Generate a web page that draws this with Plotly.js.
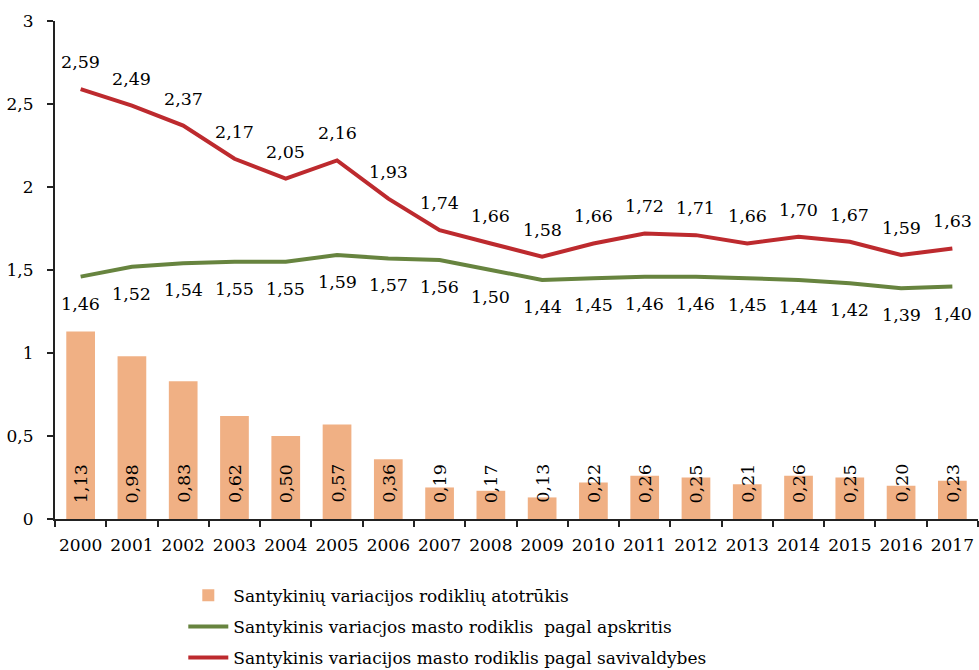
<!DOCTYPE html>
<html>
<head>
<meta charset="utf-8">
<script src="https://cdn.plot.ly/plotly-3.0.1.min.js"></script>
<style>body{margin:0;background:#fff;} #chart{width:979px;height:670px;}</style>
</head>
<body>
<div id="chart"></div>
<script>
const years = ["2000","2001","2002","2003","2004","2005","2006","2007","2008","2009","2010","2011","2012","2013","2014","2015","2016","2017"];
const gapValues = [1.13,0.98,0.83,0.62,0.50,0.57,0.36,0.19,0.17,0.13,0.22,0.26,0.25,0.21,0.26,0.25,0.20,0.23];
const countyValues = [1.46,1.52,1.54,1.55,1.55,1.59,1.57,1.56,1.50,1.44,1.45,1.46,1.46,1.45,1.44,1.42,1.39,1.40];
const municipalityValues = [2.59,2.49,2.37,2.17,2.05,2.16,1.93,1.74,1.66,1.58,1.66,1.72,1.71,1.66,1.70,1.67,1.59,1.63];
const seriesNames = [
  "Santykinių variacijos rodiklių atotrūkis",
  "Santykinis variacjos masto rodiklis  pagal apskritis",
  "Santykinis variacijos masto rodiklis pagal savivaldybes"
];
const yTickVals = [0,0.5,1,1.5,2,2.5,3];

const fmt = v => v.toFixed(2).replace('.', ',');
const FONT = "DejaVu Serif";
const FS = 17;
const LFS = 17.5;
const barColor = "#F0B084";
const greenColor = "#67843F";
const redColor = "#BD2A2E";

const traces = [
  {type:'bar', x:years, y:gapValues, name:seriesNames[0], marker:{color:barColor}, legendgroup:'a'},
  {type:'scatter', mode:'lines', x:years, y:countyValues, name:seriesNames[1], line:{color:greenColor, width:4}, legendgroup:'b'},
  {type:'scatter', mode:'lines', x:years, y:municipalityValues, name:seriesNames[2], line:{color:redColor, width:4}, legendgroup:'c'}
];

const annotations = [];
years.forEach((yr,i)=>{
  annotations.push({x:i, y:municipalityValues[i], xref:'x', yref:'y', text:fmt(municipalityValues[i]), showarrow:false, yshift:27, font:{family:FONT,size:LFS,color:'#000'}});
  annotations.push({x:i, y:countyValues[i], xref:'x', yref:'y', text:fmt(countyValues[i]), showarrow:false, yshift:-27, font:{family:FONT,size:LFS,color:'#000'}});
  annotations.push({x:i, y:0, xref:'x', yref:'y', text:fmt(gapValues[i]), showarrow:false, textangle:-90, yanchor:'bottom', yshift:14, font:{family:FONT,size:LFS,color:'#000'}});
});

const layout = {
  width:979, height:670,
  margin:{l:55, r:1, t:21, b:151, autoexpand:false},
  paper_bgcolor:'#fff', plot_bgcolor:'#fff',
  separators:', ',
  font:{family:FONT, size:FS, color:'#000'},
  bargap:0.44,
  showlegend:true,
  legend:{x:0.139, xanchor:'left', y:-0.118, yanchor:'top', orientation:'v', font:{family:FONT,size:17,color:'#000'}, tracegroupgap:6, itemwidth:40, bgcolor:'rgba(0,0,0,0)'},
  xaxis:{type:'category', range:[-0.5,17.5], autorange:false, showgrid:false, showline:true, linecolor:'#222', linewidth:2, ticks:'outside', tickson:'boundaries', ticklen:6, tickwidth:2, tickcolor:'#222', tickangle:0, tickfont:{family:FONT,size:FS,color:'#000'}, ticklabelstandoff:10, zeroline:false, fixedrange:true},
  yaxis:{range:[0,3], autorange:false, tickvals:yTickVals, showgrid:false, showline:true, linecolor:'#222', linewidth:2, ticks:'outside', ticklen:6, tickwidth:2, tickcolor:'#222', tickfont:{family:FONT,size:FS,color:'#000'}, ticklabelstandoff:10, zeroline:false, fixedrange:true},
  annotations:annotations
};

Plotly.newPlot('chart', traces, layout, {displayModeBar:false, staticPlot:true});
</script>
</body>
</html>
